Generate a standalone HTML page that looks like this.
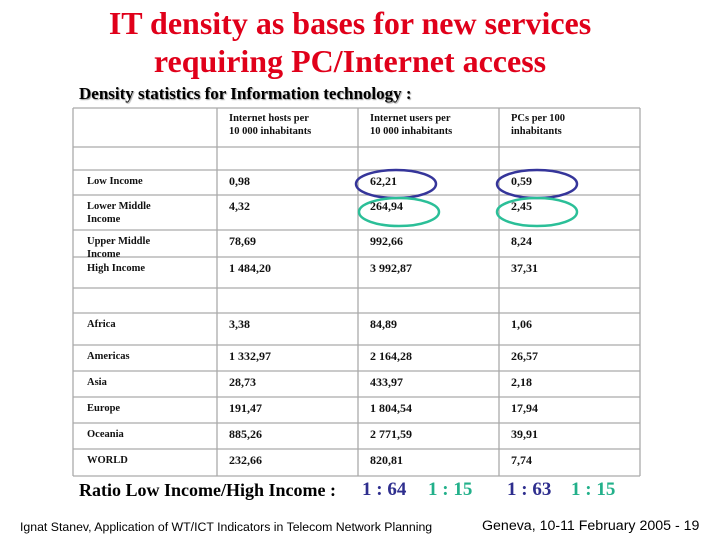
<!DOCTYPE html>
<html><head><meta charset="utf-8"><style>
body{margin:0;width:720px;height:540px;background:#fff;position:relative;overflow:hidden;font-family:"Liberation Serif",serif}
.a{position:absolute;white-space:nowrap}
.t{font-weight:bold;color:#e0001a;font-size:32px;left:0;width:700px;text-align:center}
.cell{position:absolute;font-size:12px;font-weight:bold;color:#111;line-height:13px}
.hd{font-size:10.5px;line-height:13px}
</style></head><body>
<div class="a t" style="top:5px;left:0px;width:700px">IT density as bases for new services</div>
<div class="a t" style="top:43px;left:0px;width:700px">requiring PC/Internet access</div>
<div class="a" style="left:79px;top:84px;font-size:17px;font-weight:bold;text-shadow:1px 1px 1px #999">Density statistics for Information technology :</div>
<svg id="tbl" class="a" style="left:0;top:0" width="720" height="540"></svg>
<div id="cells"></div>
<div class="a" style="left:79px;top:480px;font-size:18px;font-weight:bold">Ratio Low Income/High Income :</div>
<div class="a" style="left:362px;top:479px;font-size:19px;font-weight:bold;color:#2e2e8e">1 : 64</div>
<div class="a" style="left:428px;top:479px;font-size:19px;font-weight:bold;color:#22b08a">1 : 15</div>
<div class="a" style="left:507px;top:479px;font-size:19px;font-weight:bold;color:#2e2e8e">1 : 63</div>
<div class="a" style="left:571px;top:479px;font-size:19px;font-weight:bold;color:#22b08a">1 : 15</div>
<div class="a" style="left:20px;top:520px;font-family:'Liberation Sans',sans-serif;font-size:12.3px">Ignat Stanev, Application of WT/ICT Indicators in Telecom Network Planning</div>
<div class="a" style="left:482px;top:518px;font-family:'Liberation Sans',sans-serif;font-size:14.2px">Geneva, 10-11 February 2005 - 19</div>
<script>
const headers=["Internet hosts per<br>10 000 inhabitants","Internet users per<br>10 000 inhabitants","PCs per 100<br>inhabitants"];
const rowLabels=["","Low Income","Lower Middle<br>Income","Upper Middle<br>Income","High Income","","Africa","Americas","Asia","Europe","Oceania","WORLD"];
const hosts=["","0,98","4,32","78,69","1 484,20","","3,38","1 332,97","28,73","191,47","885,26","232,66"];
const users=["","62,21","264,94","992,66","3 992,87","","84,89","2 164,28","433,97","1 804,54","2 771,59","820,81"];
const pcs=["","0,59","2,45","8,24","37,31","","1,06","26,57","2,18","17,94","39,91","7,74"];
const colX=[73,217,358,499,640];
const rowY=[108,147,170,195,230,257,288,313,345,371,397,423,449,476];
const svg=document.getElementById('tbl'),cells=document.getElementById('cells');
const NS="http://www.w3.org/2000/svg";
function line(x1,y1,x2,y2){const l=document.createElementNS(NS,'line');
l.setAttribute('x1',x1);l.setAttribute('y1',y1);l.setAttribute('x2',x2);l.setAttribute('y2',y2);
l.setAttribute('stroke','#aaa');l.setAttribute('stroke-width','1.3');


svg.appendChild(l);}
rowY.forEach(y=>line(colX[0],y,colX[4],y));
colX.forEach(x=>line(x,rowY[0],x,rowY[rowY.length-1]));
function cell(x,y,html,cls){const d=document.createElement('div');d.className='cell '+(cls||'');
d.style.left=x+'px';d.style.top=y+'px';d.innerHTML=html;


cells.appendChild(d);}
headers.forEach((h,i)=>cell(colX[i+1]+12,rowY[0]+4,h,'hd'));
const cols=[hosts,users,pcs];
rowLabels.forEach((lab,r)=>{const y=rowY[r+1]+5;
 if(lab)cell(colX[0]+14,y,lab,'hd');
 cols.forEach((c,i)=>{if(c[r])cell(colX[i+1]+12,y,c[r]);});});
function ell(cx,cy,col){const e=document.createElementNS(NS,'ellipse');
e.setAttribute('cx',cx);e.setAttribute('cy',cy);e.setAttribute('rx',40);e.setAttribute('ry',14);
e.setAttribute('fill','none');e.setAttribute('stroke',col);e.setAttribute('stroke-width','2.5');


svg.appendChild(e);}
ell(396,184,'#35359a');ell(537,184,'#35359a');ell(399,212,'#2bbf98');ell(537,212,'#2bbf98');
</script>
</body></html>
